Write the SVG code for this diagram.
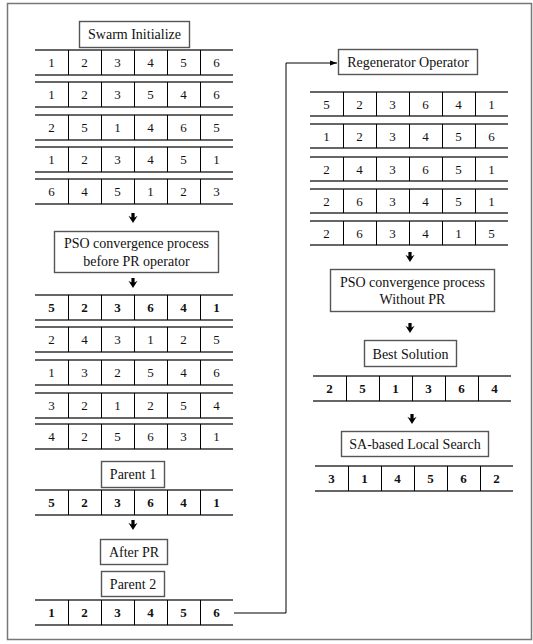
<svg xmlns="http://www.w3.org/2000/svg" xmlns:xlink="http://www.w3.org/1999/xlink" width="533" height="644" viewBox="0 0 533 644">
<style>
.frame{fill:none;stroke:#777;stroke-width:1.5}
.box{fill:#fff;stroke:#555;stroke-width:1.4}
.hl{stroke:#333;stroke-width:1.6}
.vl{stroke:#000;stroke-width:1}
.t{font-family:"Liberation Serif","Times New Roman",serif;font-size:13px;fill:#111;text-anchor:middle}
.l{font-size:14px}
.b{font-weight:bold}
.conn{fill:none;stroke:#000;stroke-width:1}
</style>
<defs>
<path id="dn" d="M-1.6,0 h3.2 v4.5 l3,-1.8 l-4.6,7.3 l-4.6,-7.3 l3,1.8 z" fill="#000"/>
<marker id="ah" markerWidth="8" markerHeight="6" refX="7" refY="3" orient="auto" markerUnits="userSpaceOnUse">
<path d="M0,0.5 L7,3 L0,5.5 z" fill="#000"/>
</marker>
</defs>
<rect class="frame" x="7.5" y="3.5" width="524" height="636"/>

<g id="connectors">
<path class="conn" d="M234,613 H286 V63 H337" marker-end="url(#ah)"/>
<use xlink:href="#dn" x="133" y="213"/>
<use xlink:href="#dn" x="133" y="278"/>
<use xlink:href="#dn" x="133" y="520"/>
<use xlink:href="#dn" x="410" y="252"/>
<use xlink:href="#dn" x="410" y="323"/>
<use xlink:href="#dn" x="412" y="414"/>
</g>

<g id="swarm-init">
<rect class="box" x="79.5" y="21.5" width="110" height="26"/>
<text class="t l" x="134.5" y="39">Swarm Initialize</text>
</g>

<g id="swarm-table">
<g transform="translate(35,50)">
<line class="hl" x1="0" y1="0" x2="198" y2="0"/><line class="hl" x1="0" y1="25" x2="198" y2="25"/>
<line class="vl" x1="33.5" y1="0" x2="33.5" y2="25"/><line class="vl" x1="66.5" y1="0" x2="66.5" y2="25"/><line class="vl" x1="99.5" y1="0" x2="99.5" y2="25"/><line class="vl" x1="132.5" y1="0" x2="132.5" y2="25"/><line class="vl" x1="165.5" y1="0" x2="165.5" y2="25"/>
<text class="t" x="16.5" y="17">1</text><text class="t" x="49.5" y="17">2</text><text class="t" x="82.5" y="17">3</text><text class="t" x="115.5" y="17">4</text><text class="t" x="148.5" y="17">5</text><text class="t" x="181.5" y="17">6</text>
</g>
<g transform="translate(35,82)">
<line class="hl" x1="0" y1="0" x2="198" y2="0"/><line class="hl" x1="0" y1="25" x2="198" y2="25"/>
<line class="vl" x1="33.5" y1="0" x2="33.5" y2="25"/><line class="vl" x1="66.5" y1="0" x2="66.5" y2="25"/><line class="vl" x1="99.5" y1="0" x2="99.5" y2="25"/><line class="vl" x1="132.5" y1="0" x2="132.5" y2="25"/><line class="vl" x1="165.5" y1="0" x2="165.5" y2="25"/>
<text class="t" x="16.5" y="17">1</text><text class="t" x="49.5" y="17">2</text><text class="t" x="82.5" y="17">3</text><text class="t" x="115.5" y="17">5</text><text class="t" x="148.5" y="17">4</text><text class="t" x="181.5" y="17">6</text>
</g>
<g transform="translate(35,115)">
<line class="hl" x1="0" y1="0" x2="198" y2="0"/><line class="hl" x1="0" y1="25" x2="198" y2="25"/>
<line class="vl" x1="33.5" y1="0" x2="33.5" y2="25"/><line class="vl" x1="66.5" y1="0" x2="66.5" y2="25"/><line class="vl" x1="99.5" y1="0" x2="99.5" y2="25"/><line class="vl" x1="132.5" y1="0" x2="132.5" y2="25"/><line class="vl" x1="165.5" y1="0" x2="165.5" y2="25"/>
<text class="t" x="16.5" y="17">2</text><text class="t" x="49.5" y="17">5</text><text class="t" x="82.5" y="17">1</text><text class="t" x="115.5" y="17">4</text><text class="t" x="148.5" y="17">6</text><text class="t" x="181.5" y="17">5</text>
</g>
<g transform="translate(35,147)">
<line class="hl" x1="0" y1="0" x2="198" y2="0"/><line class="hl" x1="0" y1="25" x2="198" y2="25"/>
<line class="vl" x1="33.5" y1="0" x2="33.5" y2="25"/><line class="vl" x1="66.5" y1="0" x2="66.5" y2="25"/><line class="vl" x1="99.5" y1="0" x2="99.5" y2="25"/><line class="vl" x1="132.5" y1="0" x2="132.5" y2="25"/><line class="vl" x1="165.5" y1="0" x2="165.5" y2="25"/>
<text class="t" x="16.5" y="17">1</text><text class="t" x="49.5" y="17">2</text><text class="t" x="82.5" y="17">3</text><text class="t" x="115.5" y="17">4</text><text class="t" x="148.5" y="17">5</text><text class="t" x="181.5" y="17">1</text>
</g>
<g transform="translate(35,179)">
<line class="hl" x1="0" y1="0" x2="198" y2="0"/><line class="hl" x1="0" y1="25" x2="198" y2="25"/>
<line class="vl" x1="33.5" y1="0" x2="33.5" y2="25"/><line class="vl" x1="66.5" y1="0" x2="66.5" y2="25"/><line class="vl" x1="99.5" y1="0" x2="99.5" y2="25"/><line class="vl" x1="132.5" y1="0" x2="132.5" y2="25"/><line class="vl" x1="165.5" y1="0" x2="165.5" y2="25"/>
<text class="t" x="16.5" y="17">6</text><text class="t" x="49.5" y="17">4</text><text class="t" x="82.5" y="17">5</text><text class="t" x="115.5" y="17">1</text><text class="t" x="148.5" y="17">2</text><text class="t" x="181.5" y="17">3</text>
</g>
</g>

<g id="pso-before">
<rect class="box" x="54.5" y="231.5" width="164" height="41"/>
<text class="t l" x="136.5" y="247.5">PSO convergence process</text>
<text class="t l" x="136.5" y="265.5">before PR operator</text>
</g>

<g id="pso-table">
<g transform="translate(35,295)">
<line class="hl" x1="0" y1="0" x2="198" y2="0"/><line class="hl" x1="0" y1="25" x2="198" y2="25"/>
<line class="vl" x1="33.5" y1="0" x2="33.5" y2="25"/><line class="vl" x1="66.5" y1="0" x2="66.5" y2="25"/><line class="vl" x1="99.5" y1="0" x2="99.5" y2="25"/><line class="vl" x1="132.5" y1="0" x2="132.5" y2="25"/><line class="vl" x1="165.5" y1="0" x2="165.5" y2="25"/>
<text class="t b" x="16.5" y="17">5</text><text class="t b" x="49.5" y="17">2</text><text class="t b" x="82.5" y="17">3</text><text class="t b" x="115.5" y="17">6</text><text class="t b" x="148.5" y="17">4</text><text class="t b" x="181.5" y="17">1</text>
</g>
<g transform="translate(35,327)">
<line class="hl" x1="0" y1="0" x2="198" y2="0"/><line class="hl" x1="0" y1="25" x2="198" y2="25"/>
<line class="vl" x1="33.5" y1="0" x2="33.5" y2="25"/><line class="vl" x1="66.5" y1="0" x2="66.5" y2="25"/><line class="vl" x1="99.5" y1="0" x2="99.5" y2="25"/><line class="vl" x1="132.5" y1="0" x2="132.5" y2="25"/><line class="vl" x1="165.5" y1="0" x2="165.5" y2="25"/>
<text class="t" x="16.5" y="17">2</text><text class="t" x="49.5" y="17">4</text><text class="t" x="82.5" y="17">3</text><text class="t" x="115.5" y="17">1</text><text class="t" x="148.5" y="17">2</text><text class="t" x="181.5" y="17">5</text>
</g>
<g transform="translate(35,360)">
<line class="hl" x1="0" y1="0" x2="198" y2="0"/><line class="hl" x1="0" y1="25" x2="198" y2="25"/>
<line class="vl" x1="33.5" y1="0" x2="33.5" y2="25"/><line class="vl" x1="66.5" y1="0" x2="66.5" y2="25"/><line class="vl" x1="99.5" y1="0" x2="99.5" y2="25"/><line class="vl" x1="132.5" y1="0" x2="132.5" y2="25"/><line class="vl" x1="165.5" y1="0" x2="165.5" y2="25"/>
<text class="t" x="16.5" y="17">1</text><text class="t" x="49.5" y="17">3</text><text class="t" x="82.5" y="17">2</text><text class="t" x="115.5" y="17">5</text><text class="t" x="148.5" y="17">4</text><text class="t" x="181.5" y="17">6</text>
</g>
<g transform="translate(35,393)">
<line class="hl" x1="0" y1="0" x2="198" y2="0"/><line class="hl" x1="0" y1="25" x2="198" y2="25"/>
<line class="vl" x1="33.5" y1="0" x2="33.5" y2="25"/><line class="vl" x1="66.5" y1="0" x2="66.5" y2="25"/><line class="vl" x1="99.5" y1="0" x2="99.5" y2="25"/><line class="vl" x1="132.5" y1="0" x2="132.5" y2="25"/><line class="vl" x1="165.5" y1="0" x2="165.5" y2="25"/>
<text class="t" x="16.5" y="17">3</text><text class="t" x="49.5" y="17">2</text><text class="t" x="82.5" y="17">1</text><text class="t" x="115.5" y="17">2</text><text class="t" x="148.5" y="17">5</text><text class="t" x="181.5" y="17">4</text>
</g>
<g transform="translate(35,424)">
<line class="hl" x1="0" y1="0" x2="198" y2="0"/><line class="hl" x1="0" y1="25" x2="198" y2="25"/>
<line class="vl" x1="33.5" y1="0" x2="33.5" y2="25"/><line class="vl" x1="66.5" y1="0" x2="66.5" y2="25"/><line class="vl" x1="99.5" y1="0" x2="99.5" y2="25"/><line class="vl" x1="132.5" y1="0" x2="132.5" y2="25"/><line class="vl" x1="165.5" y1="0" x2="165.5" y2="25"/>
<text class="t" x="16.5" y="17">4</text><text class="t" x="49.5" y="17">2</text><text class="t" x="82.5" y="17">5</text><text class="t" x="115.5" y="17">6</text><text class="t" x="148.5" y="17">3</text><text class="t" x="181.5" y="17">1</text>
</g>
</g>

<g id="parent1">
<rect class="box" x="101.5" y="461.5" width="63" height="26"/>
<text class="t l" x="133" y="479">Parent 1</text>
</g>
<g id="parent1-row" transform="translate(35,490)">
<line class="hl" x1="0" y1="0" x2="198" y2="0"/><line class="hl" x1="0" y1="25" x2="198" y2="25"/>
<line class="vl" x1="33.5" y1="0" x2="33.5" y2="25"/><line class="vl" x1="66.5" y1="0" x2="66.5" y2="25"/><line class="vl" x1="99.5" y1="0" x2="99.5" y2="25"/><line class="vl" x1="132.5" y1="0" x2="132.5" y2="25"/><line class="vl" x1="165.5" y1="0" x2="165.5" y2="25"/>
<text class="t b" x="16.5" y="17">5</text><text class="t b" x="49.5" y="17">2</text><text class="t b" x="82.5" y="17">3</text><text class="t b" x="115.5" y="17">6</text><text class="t b" x="148.5" y="17">4</text><text class="t b" x="181.5" y="17">1</text>
</g>

<g id="after-pr">
<rect class="box" x="100.5" y="539.5" width="67" height="25"/>
<text class="t l" x="134" y="557">After PR</text>
</g>
<g id="parent2">
<rect class="box" x="101.5" y="571.5" width="63" height="25"/>
<text class="t l" x="133" y="589">Parent 2</text>
</g>
<g id="parent2-row" transform="translate(35,600)">
<line class="hl" x1="0" y1="0" x2="198" y2="0"/><line class="hl" x1="0" y1="25" x2="198" y2="25"/>
<line class="vl" x1="33.5" y1="0" x2="33.5" y2="25"/><line class="vl" x1="66.5" y1="0" x2="66.5" y2="25"/><line class="vl" x1="99.5" y1="0" x2="99.5" y2="25"/><line class="vl" x1="132.5" y1="0" x2="132.5" y2="25"/><line class="vl" x1="165.5" y1="0" x2="165.5" y2="25"/>
<text class="t b" x="16.5" y="17">1</text><text class="t b" x="49.5" y="17">2</text><text class="t b" x="82.5" y="17">3</text><text class="t b" x="115.5" y="17">4</text><text class="t b" x="148.5" y="17">5</text><text class="t b" x="181.5" y="17">6</text>
</g>

<g id="regenerator">
<rect class="box" x="338.5" y="49.5" width="139" height="25"/>
<text class="t l" x="408" y="67">Regenerator Operator</text>
</g>

<g id="regen-table">
<g transform="translate(310,92)">
<line class="hl" x1="0" y1="0" x2="198" y2="0"/><line class="hl" x1="0" y1="24" x2="198" y2="24"/>
<line class="vl" x1="33.5" y1="0" x2="33.5" y2="24"/><line class="vl" x1="66.5" y1="0" x2="66.5" y2="24"/><line class="vl" x1="99.5" y1="0" x2="99.5" y2="24"/><line class="vl" x1="132.5" y1="0" x2="132.5" y2="24"/><line class="vl" x1="165.5" y1="0" x2="165.5" y2="24"/>
<text class="t" x="16.5" y="16.5">5</text><text class="t" x="49.5" y="16.5">2</text><text class="t" x="82.5" y="16.5">3</text><text class="t" x="115.5" y="16.5">6</text><text class="t" x="148.5" y="16.5">4</text><text class="t" x="181.5" y="16.5">1</text>
</g>
<g transform="translate(310,124)">
<line class="hl" x1="0" y1="0" x2="198" y2="0"/><line class="hl" x1="0" y1="24" x2="198" y2="24"/>
<line class="vl" x1="33.5" y1="0" x2="33.5" y2="24"/><line class="vl" x1="66.5" y1="0" x2="66.5" y2="24"/><line class="vl" x1="99.5" y1="0" x2="99.5" y2="24"/><line class="vl" x1="132.5" y1="0" x2="132.5" y2="24"/><line class="vl" x1="165.5" y1="0" x2="165.5" y2="24"/>
<text class="t" x="16.5" y="16.5">1</text><text class="t" x="49.5" y="16.5">2</text><text class="t" x="82.5" y="16.5">3</text><text class="t" x="115.5" y="16.5">4</text><text class="t" x="148.5" y="16.5">5</text><text class="t" x="181.5" y="16.5">6</text>
</g>
<g transform="translate(310,157)">
<line class="hl" x1="0" y1="0" x2="198" y2="0"/><line class="hl" x1="0" y1="24" x2="198" y2="24"/>
<line class="vl" x1="33.5" y1="0" x2="33.5" y2="24"/><line class="vl" x1="66.5" y1="0" x2="66.5" y2="24"/><line class="vl" x1="99.5" y1="0" x2="99.5" y2="24"/><line class="vl" x1="132.5" y1="0" x2="132.5" y2="24"/><line class="vl" x1="165.5" y1="0" x2="165.5" y2="24"/>
<text class="t" x="16.5" y="16.5">2</text><text class="t" x="49.5" y="16.5">4</text><text class="t" x="82.5" y="16.5">3</text><text class="t" x="115.5" y="16.5">6</text><text class="t" x="148.5" y="16.5">5</text><text class="t" x="181.5" y="16.5">1</text>
</g>
<g transform="translate(310,189)">
<line class="hl" x1="0" y1="0" x2="198" y2="0"/><line class="hl" x1="0" y1="24" x2="198" y2="24"/>
<line class="vl" x1="33.5" y1="0" x2="33.5" y2="24"/><line class="vl" x1="66.5" y1="0" x2="66.5" y2="24"/><line class="vl" x1="99.5" y1="0" x2="99.5" y2="24"/><line class="vl" x1="132.5" y1="0" x2="132.5" y2="24"/><line class="vl" x1="165.5" y1="0" x2="165.5" y2="24"/>
<text class="t" x="16.5" y="16.5">2</text><text class="t" x="49.5" y="16.5">6</text><text class="t" x="82.5" y="16.5">3</text><text class="t" x="115.5" y="16.5">4</text><text class="t" x="148.5" y="16.5">5</text><text class="t" x="181.5" y="16.5">1</text>
</g>
<g transform="translate(310,221)">
<line class="hl" x1="0" y1="0" x2="198" y2="0"/><line class="hl" x1="0" y1="24" x2="198" y2="24"/>
<line class="vl" x1="33.5" y1="0" x2="33.5" y2="24"/><line class="vl" x1="66.5" y1="0" x2="66.5" y2="24"/><line class="vl" x1="99.5" y1="0" x2="99.5" y2="24"/><line class="vl" x1="132.5" y1="0" x2="132.5" y2="24"/><line class="vl" x1="165.5" y1="0" x2="165.5" y2="24"/>
<text class="t" x="16.5" y="16.5">2</text><text class="t" x="49.5" y="16.5">6</text><text class="t" x="82.5" y="16.5">3</text><text class="t" x="115.5" y="16.5">4</text><text class="t" x="148.5" y="16.5">1</text><text class="t" x="181.5" y="16.5">5</text>
</g>
</g>

<g id="pso-without">
<rect class="box" x="330.5" y="269.5" width="164" height="42"/>
<text class="t l" x="412.5" y="286.5">PSO convergence process</text>
<text class="t l" x="412.5" y="303.5">Without PR</text>
</g>

<g id="best-solution">
<rect class="box" x="364.5" y="340.5" width="92" height="26"/>
<text class="t l" x="410.5" y="358.5">Best Solution</text>
</g>
<g id="best-row" transform="translate(313,376)">
<line class="hl" x1="0" y1="0" x2="198" y2="0"/><line class="hl" x1="0" y1="25" x2="198" y2="25"/>
<line class="vl" x1="33.5" y1="0" x2="33.5" y2="25"/><line class="vl" x1="66.5" y1="0" x2="66.5" y2="25"/><line class="vl" x1="99.5" y1="0" x2="99.5" y2="25"/><line class="vl" x1="132.5" y1="0" x2="132.5" y2="25"/><line class="vl" x1="165.5" y1="0" x2="165.5" y2="25"/>
<text class="t b" x="16.5" y="17">2</text><text class="t b" x="49.5" y="17">5</text><text class="t b" x="82.5" y="17">1</text><text class="t b" x="115.5" y="17">3</text><text class="t b" x="148.5" y="17">6</text><text class="t b" x="181.5" y="17">4</text>
</g>

<g id="sa-search">
<rect class="box" x="341.5" y="431.5" width="147" height="25"/>
<text class="t l" x="415" y="449">SA-based Local Search</text>
</g>
<g id="sa-row" transform="translate(315,466)">
<line class="hl" x1="0" y1="0" x2="198" y2="0"/><line class="hl" x1="0" y1="25" x2="198" y2="25"/>
<line class="vl" x1="33.5" y1="0" x2="33.5" y2="25"/><line class="vl" x1="66.5" y1="0" x2="66.5" y2="25"/><line class="vl" x1="99.5" y1="0" x2="99.5" y2="25"/><line class="vl" x1="132.5" y1="0" x2="132.5" y2="25"/><line class="vl" x1="165.5" y1="0" x2="165.5" y2="25"/>
<text class="t b" x="16.5" y="17">3</text><text class="t b" x="49.5" y="17">1</text><text class="t b" x="82.5" y="17">4</text><text class="t b" x="115.5" y="17">5</text><text class="t b" x="148.5" y="17">6</text><text class="t b" x="181.5" y="17">2</text>
</g>
</svg>
